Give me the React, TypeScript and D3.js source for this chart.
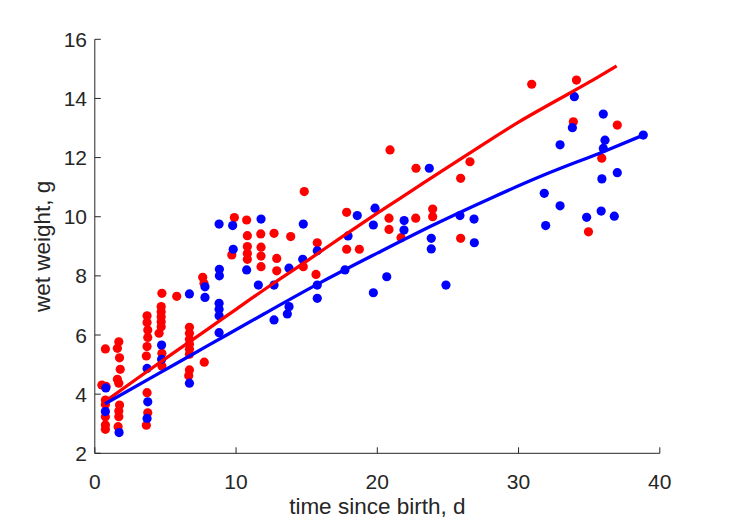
import React from "react";
import * as d3 from "d3";

// female (red) observations: [time since birth (d), wet weight (g)]
const femaleData: [number, number][] = [
  [0.75, 5.53], [0.5, 4.31], [0.8, 4.26], [0.75, 3.8], [0.75, 3.65], [0.75, 3.24], [0.75, 2.96], [0.75, 2.81],
  [1.7, 5.77], [1.6, 5.55], [1.75, 5.23], [1.8, 4.84], [1.6, 4.5], [1.7, 4.37], [1.75, 3.63], [1.7, 3.43], [1.7, 3.24], [1.65, 2.9],
  [3.7, 6.65], [3.7, 6.42], [3.75, 6.17], [3.75, 5.92], [3.7, 5.61], [3.65, 5.29], [3.7, 4.05], [3.75, 3.37], [3.65, 2.95],
  [4.75, 7.41], [4.7, 6.96], [4.7, 6.79], [4.7, 6.62], [4.7, 6.45], [4.7, 6.28], [4.55, 6.06], [4.75, 5.38], [4.75, 4.95],
  [5.8, 7.31],
  [6.7, 6.26], [6.7, 6.06], [6.7, 5.86], [6.7, 5.69], [6.7, 5.52], [6.7, 5.35], [6.7, 4.82], [6.65, 4.62],
  [7.64, 7.95], [7.73, 7.75], [7.75, 5.08],
  [9.88, 9.97], [9.7, 8.71],
  [10.75, 9.89], [10.8, 9.36], [10.8, 8.99], [10.8, 8.76], [10.8, 8.56],
  [11.75, 9.42], [11.77, 8.97], [11.77, 8.67], [11.77, 8.31],
  [12.69, 9.44], [12.88, 8.59], [12.88, 8.17],
  [13.87, 9.33],
  [14.83, 10.85], [14.76, 8.31],
  [15.75, 9.12], [15.66, 8.05],
  [17.83, 10.15], [17.83, 8.9],
  [18.73, 8.9],
  [20.9, 12.26], [20.83, 9.95], [20.83, 9.57],
  [21.68, 9.29],
  [22.74, 11.64], [22.72, 9.95],
  [23.92, 10.26], [23.92, 10.0],
  [25.9, 11.3], [25.9, 9.27],
  [26.56, 11.86],
  [30.93, 14.48],
  [34.1, 14.62], [33.88, 13.21],
  [34.95, 9.49],
  [35.89, 11.98],
  [36.99, 13.1],
];

// male (blue) observations: [time since birth (d), wet weight (g)]
const maleData: [number, number][] = [
  [0.78, 4.21], [0.75, 3.41],
  [1.72, 2.7],
  [3.7, 4.87], [3.75, 3.74], [3.7, 3.18],
  [4.73, 5.66], [4.73, 5.18],
  [6.7, 7.39], [6.7, 4.37],
  [7.8, 7.63], [7.8, 7.27],
  [8.8, 9.75], [8.82, 8.22], [8.82, 8.0], [8.8, 7.07], [8.8, 6.87], [8.8, 6.65], [8.8, 6.08],
  [9.76, 9.7], [9.8, 8.9],
  [10.75, 8.2],
  [11.77, 9.92], [11.58, 7.69],
  [12.69, 7.69], [12.69, 6.51],
  [13.75, 8.26], [13.75, 6.96], [13.63, 6.71],
  [14.76, 9.75], [14.72, 8.56],
  [15.75, 8.85], [15.75, 7.69], [15.75, 7.24],
  [17.93, 9.35], [17.71, 8.2],
  [18.58, 10.04],
  [19.84, 10.29], [19.72, 9.72], [19.72, 7.43],
  [20.67, 7.97],
  [21.9, 9.87], [21.89, 9.55],
  [23.68, 11.64],
  [23.82, 9.27], [23.82, 8.91],
  [24.86, 7.69],
  [25.85, 10.04],
  [26.85, 9.92], [26.87, 9.12],
  [31.82, 10.79], [31.92, 9.7],
  [32.94, 12.43], [32.94, 10.37],
  [33.95, 14.06], [33.81, 13.01],
  [34.82, 9.98],
  [36.0, 13.47], [36.12, 12.59], [36.0, 12.31], [35.9, 11.28], [35.85, 10.19],
  [36.99, 11.49], [36.78, 10.02],
  [38.83, 12.76],
];

// model curves
const femaleFit: [number, number][] = [
  [0.72, 3.75], [3, 4.53], [5.5, 5.37], [8, 6.2], [10, 6.87], [12.5, 7.7], [15, 8.5],
  [17.5, 9.32], [20, 10.12], [22.5, 10.9], [25, 11.68], [27.5, 12.45], [30, 13.2],
  [32.5, 13.88], [35, 14.55], [36.94, 15.1],
];
const maleFit: [number, number][] = [
  [0.72, 3.67], [4, 4.56], [8, 5.64], [12, 6.72], [16, 7.78], [20, 8.77], [24, 9.73],
  [28, 10.62], [32, 11.45], [36, 12.2], [38.83, 12.76],
];

const xTicks = [0, 10, 20, 30, 40];
const yTicks = [2, 4, 6, 8, 10, 12, 14, 16];
const xLabel = "time since birth, d";
const yLabel = "wet weight, g";

const W = 729;
const H = 521;
const FONT = "'Liberation Sans', Arial, Helvetica, sans-serif";
const AX = "#262626";

export default function App() {
  const x = d3.scaleLinear().domain([0, 40]).range([94.8, 659.8]);
  const y = d3.scaleLinear().domain([2, 16]).range([453.3, 39.3]);
  const line = d3
    .line<[number, number]>()
    .x((d) => x(d[0]))
    .y((d) => y(d[1]))
    .curve(d3.curveMonotoneX);
  const x0 = x(0), x1 = x(40), y0 = y(2), y1 = y(16);
  const tl = 6;
  return (
    <svg
      width={W}
      height={H}
      style={{ position: "absolute", left: 0, top: 0, background: "#fff" }}
      fontFamily={FONT}
    >
      <rect x={0} y={0} width={W} height={H} fill="#fff" />
      {femaleData.map((d, i) => (
        <circle key={"f" + i} cx={x(d[0])} cy={y(d[1])} r={4.6} fill="#ff0000" />
      ))}
      {maleData.map((d, i) => (
        <circle key={"m" + i} cx={x(d[0])} cy={y(d[1])} r={4.6} fill="#0000ff" />
      ))}
      <path d={line(femaleFit) || ""} fill="none" stroke="#ff0000" strokeWidth={3.3} />
      <path d={line(maleFit) || ""} fill="none" stroke="#0000ff" strokeWidth={3.3} />
      {/* axes */}
      <line x1={x0} y1={y0} x2={x1} y2={y0} stroke={AX} strokeWidth={1} />
      <line x1={x0} y1={y0} x2={x0} y2={y1} stroke={AX} strokeWidth={1} />
      {xTicks.map((t) => (
        <g key={"xt" + t}>
          <line x1={x(t)} x2={x(t)} y1={y0} y2={y0 - tl} stroke={AX} strokeWidth={1} />
          <text x={x(t)} y={489} textAnchor="middle" fontSize={21} fill={AX}>
            {t}
          </text>
        </g>
      ))}
      {yTicks.map((t) => (
        <g key={"yt" + t}>
          <line x1={x0} x2={x0 + tl} y1={y(t)} y2={y(t)} stroke={AX} strokeWidth={1} />
          <text x={87} y={y(t) + 7.5} textAnchor="end" fontSize={21} fill={AX}>
            {t}
          </text>
        </g>
      ))}
      <text x={(x0 + x1) / 2} y={514} textAnchor="middle" fontSize={22.5} fill={AX}>
        {xLabel}
      </text>
      <text
        transform={`translate(50,${(y0 + y1) / 2}) rotate(-90)`}
        textAnchor="middle"
        fontSize={22.5}
        fill={AX}
      >
        {yLabel}
      </text>
    </svg>
  );
}
